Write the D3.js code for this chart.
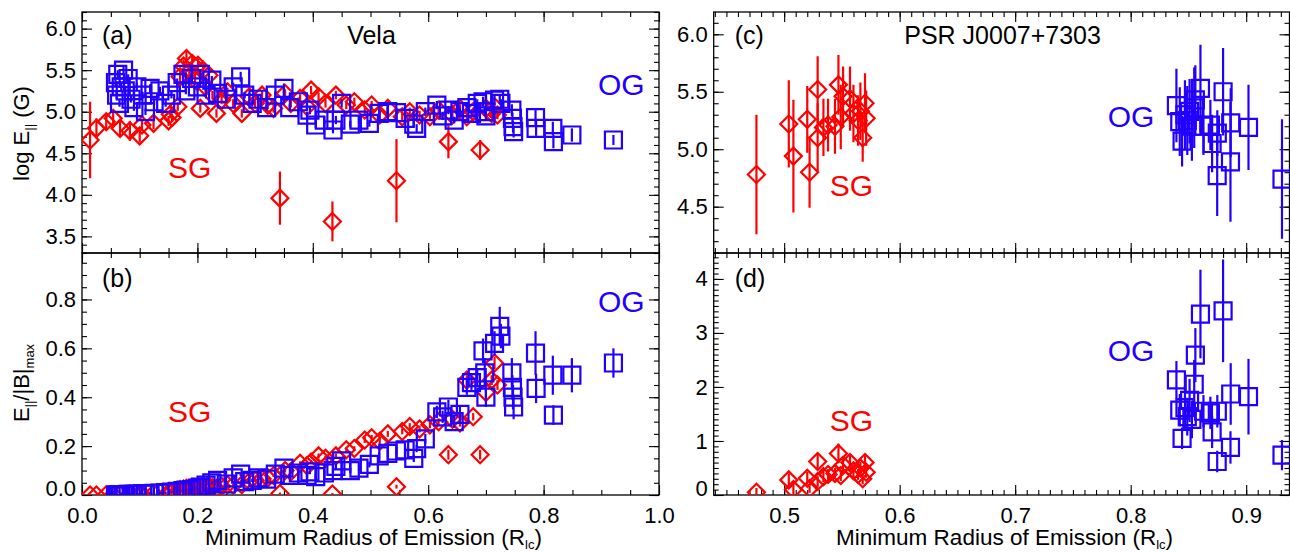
<!DOCTYPE html>
<html>
<head>
<meta charset="utf-8">
<script src="https://cdn.jsdelivr.net/npm/d3@7"></script>
<style>
body { margin: 0; background: #fff; }
svg text { font-family: "Liberation Sans", Arial, Helvetica, sans-serif; }
</style>
</head>
<body>
<div id="vis"></div>
<script>
// ---- Vela, slot gap (SG) fits ----
var velaSgRadius = [0.014, 0.025, 0.042, 0.054, 0.066, 0.083, 0.100, 0.104, 0.124, 0.150,
                    0.153, 0.156, 0.166, 0.170, 0.176, 0.181, 0.186, 0.191, 0.196, 0.201,
                    0.205, 0.210, 0.214, 0.220, 0.226, 0.233, 0.242, 0.252, 0.262, 0.277,
                    0.290, 0.300, 0.312, 0.322, 0.332, 0.343, 0.352, 0.362, 0.378, 0.390,
                    0.397, 0.410, 0.422, 0.434, 0.440, 0.458, 0.472, 0.490, 0.502, 0.516,
                    0.530, 0.545, 0.555, 0.568, 0.585, 0.603, 0.618, 0.635, 0.642, 0.655,
                    0.667, 0.678, 0.690, 0.700, 0.710, 0.715, 0.720];
var velaSgLogE = [4.66, 4.80, 4.88, 4.92, 4.80, 4.77, 4.71, 4.84, 4.86, 4.89,
                  4.97, 4.93, 5.06, 5.42, 5.55, 5.64, 5.48, 5.58, 5.38, 5.56,
                  5.04, 5.50, 5.30, 5.44, 5.20, 4.98, 5.14, 5.24, 5.10, 4.98,
                  5.18, 5.10, 5.20, 5.08, 5.04, 3.96, 5.22, 5.10, 5.16, 5.06,
                  5.26, 5.18, 5.10, 3.68, 5.20, 5.08, 5.12, 5.02, 5.08, 4.96,
                  5.04, 4.17, 4.94, 5.00, 4.96, 4.94, 5.02, 4.64, 4.96, 5.04,
                  4.94, 5.00, 4.54, 5.04, 4.98, 5.06, 4.96];
var velaSgLogEErr = [0.46, 0.12, 0.10, 0.09, 0.10, 0.12, 0.08, 0.07, 0.07, 0.06,
                     0.05, 0.05, 0.05, 0.08, 0.08, 0.09, 0.07, 0.08, 0.06, 0.08,
                     0.05, 0.08, 0.06, 0.07, 0.05, 0.05, 0.05, 0.05, 0.05, 0.05,
                     0.05, 0.05, 0.05, 0.05, 0.05, 0.32, 0.05, 0.05, 0.05, 0.05,
                     0.05, 0.05, 0.05, 0.24, 0.05, 0.05, 0.05, 0.05, 0.05, 0.05,
                     0.05, 0.50, 0.05, 0.05, 0.05, 0.05, 0.05, 0.20, 0.05, 0.05,
                     0.05, 0.05, 0.12, 0.05, 0.05, 0.05, 0.05];
var velaSgRatio = [0.000, 0.000, 0.001, 0.001, 0.002, 0.003, 0.004, 0.004, 0.006, 0.010,
                   0.011, 0.012, 0.015, 0.022, 0.024, 0.027, 0.025, 0.030, 0.026, 0.032,
                   0.020, 0.034, 0.030, 0.036, 0.030, 0.026, 0.036, 0.042, 0.040, 0.042,
                   0.055, 0.060, 0.066, 0.070, 0.080, 0.006, 0.100, 0.095, 0.130, 0.120,
                   0.135, 0.160, 0.150, 0.004, 0.160, 0.185, 0.190, 0.225, 0.234, 0.220,
                   0.250, 0.034, 0.260, 0.280, 0.270, 0.287, 0.300, 0.165, 0.310, 0.295,
                   0.470, 0.320, 0.165, 0.420, 0.470, 0.540, 0.450];
var velaSgRatioErr = [0.004, 0.003, 0.003, 0.003, 0.003, 0.003, 0.003, 0.003, 0.003, 0.004,
                      0.004, 0.004, 0.004, 0.005, 0.005, 0.005, 0.005, 0.005, 0.005, 0.005,
                      0.004, 0.005, 0.005, 0.005, 0.005, 0.004, 0.005, 0.005, 0.005, 0.005,
                      0.005, 0.006, 0.006, 0.006, 0.006, 0.004, 0.008, 0.008, 0.008, 0.008,
                      0.008, 0.010, 0.010, 0.004, 0.010, 0.010, 0.010, 0.012, 0.012, 0.012,
                      0.012, 0.008, 0.012, 0.014, 0.014, 0.014, 0.014, 0.020, 0.015, 0.015,
                      0.020, 0.015, 0.020, 0.020, 0.020, 0.025, 0.020];

// ---- Vela, outer gap (OG) fits ----
var velaOgRadius = [0.058, 0.060, 0.062, 0.065, 0.068, 0.072, 0.075, 0.080, 0.085, 0.090,
                    0.095, 0.105, 0.110, 0.118, 0.125, 0.135, 0.145, 0.155, 0.165, 0.175,
                    0.180, 0.190, 0.200, 0.205, 0.215, 0.225, 0.235, 0.250, 0.262, 0.275,
                    0.282, 0.295, 0.305, 0.320, 0.335, 0.350, 0.360, 0.375, 0.390, 0.395,
                    0.405, 0.420, 0.435, 0.440, 0.450, 0.465, 0.480, 0.498, 0.515, 0.530,
                    0.545, 0.560, 0.575, 0.580, 0.595, 0.615, 0.625, 0.635, 0.645, 0.655,
                    0.667, 0.675, 0.685, 0.695, 0.698, 0.700, 0.715, 0.724, 0.726, 0.745,
                    0.746, 0.747, 0.748, 0.786, 0.787, 0.816, 0.817, 0.849, 0.921];
var velaOgLogE = [5.35, 5.20, 5.45, 5.10, 5.30, 5.50, 5.25, 5.40, 5.15, 5.05,
                  5.30, 5.20, 5.00, 5.28, 5.12, 5.25, 5.10, 5.20, 5.35, 5.45,
                  5.25, 5.40, 5.30, 5.45, 5.20, 5.38, 5.22, 5.15, 5.30, 5.42,
                  5.20, 5.10, 5.15, 5.05, 5.20, 5.28, 5.05, 5.12, 4.96, 5.02,
                  4.84, 4.90, 4.78, 4.90, 5.10, 4.85, 4.90, 4.86, 4.98, 5.00,
                  4.99, 4.92, 4.85, 4.80, 5.00, 5.08, 4.95, 5.02, 4.90, 5.00,
                  5.05, 4.98, 5.10, 5.12, 5.00, 4.95, 5.14, 5.15, 5.10, 5.02,
                  4.92, 4.82, 4.76, 4.93, 4.80, 4.80, 4.64, 4.72, 4.66];
var velaOgLogEErr = [0.05, 0.05, 0.05, 0.04, 0.05, 0.05, 0.04, 0.05, 0.04, 0.04,
                     0.05, 0.04, 0.04, 0.05, 0.04, 0.05, 0.04, 0.04, 0.05, 0.05,
                     0.04, 0.05, 0.05, 0.05, 0.04, 0.05, 0.04, 0.04, 0.05, 0.06,
                     0.04, 0.04, 0.05, 0.04, 0.05, 0.06, 0.04, 0.05, 0.04, 0.05,
                     0.04, 0.05, 0.04, 0.05, 0.05, 0.04, 0.05, 0.04, 0.05, 0.05,
                     0.05, 0.05, 0.04, 0.05, 0.05, 0.05, 0.05, 0.05, 0.04, 0.05,
                     0.05, 0.05, 0.05, 0.06, 0.05, 0.05, 0.06, 0.06, 0.05, 0.07,
                     0.07, 0.07, 0.07, 0.09, 0.09, 0.08, 0.08, 0.08, 0.06];
var velaOgRatio = [0.000, 0.000, 0.001, 0.000, 0.002, 0.002, 0.002, 0.003, 0.003, 0.003,
                   0.004, 0.005, 0.005, 0.006, 0.007, 0.008, 0.010, 0.012, 0.015, 0.018,
                   0.020, 0.022, 0.028, 0.032, 0.040, 0.050, 0.060, 0.045, 0.070, 0.085,
                   0.055, 0.060, 0.070, 0.065, 0.085, 0.110, 0.080, 0.090, 0.080, 0.095,
                   0.075, 0.090, 0.100, 0.117, 0.140, 0.100, 0.110, 0.125, 0.160, 0.170,
                   0.180, 0.185, 0.150, 0.190, 0.230, 0.340, 0.320, 0.360, 0.300, 0.330,
                   0.440, 0.460, 0.480, 0.590, 0.500, 0.400, 0.620, 0.690, 0.650, 0.500,
                   0.440, 0.400, 0.360, 0.580, 0.436, 0.490, 0.327, 0.490, 0.540];
var velaOgRatioErr = [0.003, 0.003, 0.003, 0.003, 0.003, 0.003, 0.003, 0.003, 0.003, 0.003,
                      0.003, 0.003, 0.003, 0.004, 0.004, 0.004, 0.004, 0.004, 0.005, 0.005,
                      0.005, 0.005, 0.005, 0.005, 0.006, 0.006, 0.006, 0.006, 0.007, 0.007,
                      0.007, 0.007, 0.008, 0.008, 0.008, 0.010, 0.008, 0.010, 0.008, 0.010,
                      0.010, 0.010, 0.010, 0.012, 0.012, 0.010, 0.012, 0.012, 0.015, 0.015,
                      0.015, 0.015, 0.015, 0.015, 0.020, 0.025, 0.025, 0.030, 0.025, 0.030,
                      0.030, 0.030, 0.035, 0.050, 0.060, 0.040, 0.050, 0.080, 0.050, 0.060,
                      0.050, 0.050, 0.050, 0.090, 0.060, 0.080, 0.040, 0.070, 0.060];

// ---- PSR J0007+7303 ----
var j0007SgRadius = [0.476, 0.504, 0.508, 0.520, 0.522, 0.529, 0.529, 0.534, 0.538, 0.544,
                     0.547, 0.549, 0.551, 0.557, 0.560, 0.564, 0.566, 0.568, 0.570, 0.571];
var j0007SgLogE = [4.78, 5.22, 4.94, 5.26, 4.80, 5.52, 5.10, 5.19, 5.21, 5.20,
                   5.56, 5.28, 5.46, 5.44, 5.31, 5.25, 5.33, 5.10, 5.40, 5.27];
var j0007SgLogEErr = [0.52, 0.38, 0.49, 0.29, 0.31, 0.29, 0.30, 0.25, 0.23, 0.24,
                      0.26, 0.28, 0.26, 0.28, 0.25, 0.22, 0.25, 0.21, 0.26, 0.24];
var j0007SgRatio = [0.05, 0.28, 0.10, 0.31, 0.12, 0.62, 0.25, 0.34, 0.38, 0.40,
                    0.77, 0.36, 0.55, 0.60, 0.45, 0.38, 0.50, 0.30, 0.60, 0.42];
var j0007SgRatioErr = [0.08, 0.12, 0.10, 0.12, 0.08, 0.16, 0.10, 0.10, 0.10, 0.10,
                       0.18, 0.10, 0.14, 0.15, 0.12, 0.10, 0.12, 0.10, 0.14, 0.10];

var j0007OgRadius = [0.8396, 0.8425, 0.8445, 0.847, 0.849, 0.851, 0.853, 0.855, 0.856, 0.8604,
                     0.863, 0.869, 0.8705, 0.8749, 0.875, 0.880, 0.8864, 0.8866, 0.902, 0.931];
var j0007OgLogE = [5.38, 5.24, 5.07, 5.30, 5.25, 5.33, 5.20, 5.36, 5.43, 5.53,
                   5.20, 5.21, 5.05, 4.77, 5.14, 5.50, 4.89, 5.23, 5.19, 4.74];
var j0007OgLogEErr = [0.32, 0.30, 0.22, 0.30, 0.30, 0.28, 0.30, 0.35, 0.30, 0.38,
                      0.25, 0.22, 0.25, 0.35, 0.20, 0.38, 0.52, 0.30, 0.37, 0.52];
var j0007OgRatio = [2.13, 1.57, 1.05, 1.62, 1.45, 1.75, 1.40, 2.05, 2.59, 3.35,
                    1.55, 1.52, 1.17, 0.62, 1.55, 3.41, 0.88, 1.87, 1.82, 0.74];
var j0007OgRatioErr = [0.35, 0.30, 0.20, 0.40, 0.35, 0.40, 0.35, 0.45, 0.50, 0.82,
                       0.30, 0.30, 0.30, 0.20, 0.30, 0.95, 0.30, 0.57, 0.70, 0.28];

// ---- axis ticks ----
var leftXTicks = [0.0, 0.2, 0.4, 0.6, 0.8, 1.0];
var rightXTicks = [0.5, 0.6, 0.7, 0.8, 0.9];
var aTicks = [3.5, 4.0, 4.5, 5.0, 5.5, 6.0];
var bTicks = [0.0, 0.2, 0.4, 0.6, 0.8];
var cTicks = [4.5, 5.0, 5.5, 6.0];
var dTicks = [0, 1, 2, 3, 4];

var w = 1290,
    h = 552,
    red = "#ff0000",
    blue = "#2200ff",
    tickFont = 22;

var svg = d3.select("#vis").append("svg")
    .attr("width", w)
    .attr("height", h);

var xLeft = d3.scaleLinear().domain([0, 1]).range([82, 659]),
    xRight = d3.scaleLinear().domain([0.439, 0.9375]).range([713.7, 1289.5]),
    yA = d3.scaleLinear().domain([3.3, 6.2]).range([253, 12]),
    yB = d3.scaleLinear().domain([0, 0.99]).range([495, 253]),
    yC = d3.scaleLinear().domain([4.097, 6.194]).range([253, 12]),
    yD = d3.scaleLinear().domain([0, 4.48]).range([495, 253]);

function zip(r, v, e) {
  return r.map(function(d, i) { return {r: d, v: v[i], e: e[i]}; });
}

// minor tick positions between the domain ends
function minors(domain, step) {
  var out = [], k = Math.ceil(domain[0] / step - 1e-6);
  for (; k * step <= domain[1] + 1e-9; k++) out.push(+(k * step).toFixed(4));
  return out;
}

function panel(name, x, y, o) {
  var x0 = x.range()[0], x1 = x.range()[1],
      yTop = y.range()[1], yBot = y.range()[0];
  var g = svg.append("g");

  svg.append("clipPath").attr("id", "clip-" + name)
    .append("rect")
      .attr("x", x0).attr("y", yTop)
      .attr("width", x1 - x0).attr("height", yBot - yTop);

  function tickAxis(axis, pos, vals, size, labels) {
    var a = g.append("g")
        .attr("transform", pos)
        .call(axis.tickValues(vals).tickSize(size).tickSizeOuter(0)
          .tickFormat(labels || ""));
    a.select(".domain").remove();
    a.selectAll("line").attr("stroke", "#000").attr("stroke-width", 1.1);
    a.selectAll("text").attr("font-size", tickFont).attr("fill", "#000")
        .attr("font-family", "Liberation Sans, Arial, sans-serif");
    return a;
  }

  var xm = minors(x.domain(), o.xMinor), ym = minors(y.domain(), o.yMinor);

  // bottom
  tickAxis(d3.axisBottom(x).tickPadding(12), "translate(0," + yBot + ")", o.xTicks, -10,
      o.xLabels ? d3.format(o.xFormat) : null);
  tickAxis(d3.axisBottom(x), "translate(0," + yBot + ")", xm, -5);
  // top
  tickAxis(d3.axisTop(x), "translate(0," + yTop + ")", o.xTicks, -10);
  tickAxis(d3.axisTop(x), "translate(0," + yTop + ")", xm, -5);
  // left, the lowest label sits above the bottom edge
  var ly = tickAxis(d3.axisLeft(y).tickPadding(6), "translate(" + x0 + ",0)", o.yTicks, -10,
      d3.format(o.yFormat));
  ly.selectAll(".tick text").filter(function(d) { return d === y.domain()[0]; })
      .attr("dy", "0em");
  tickAxis(d3.axisLeft(y), "translate(" + x0 + ",0)", ym, -5);
  // right
  tickAxis(d3.axisRight(y), "translate(" + x1 + ",0)", o.yTicks, -10);
  tickAxis(d3.axisRight(y), "translate(" + x1 + ",0)", ym, -5);

  // frame
  g.append("rect")
      .attr("x", x0).attr("y", yTop)
      .attr("width", x1 - x0).attr("height", yBot - yTop)
      .attr("fill", "none").attr("stroke", "#000").attr("stroke-width", 1.3);

  var plot = svg.append("g").attr("clip-path", "url(#clip-" + name + ")");
  return {g: g, plot: plot, x0: x0, x1: x1, yTop: yTop, yBot: yBot};
}

function series(p, x, y, data, shape, color) {
  var s = p.plot.append("g");
  s.selectAll("line")
    .data(data)
    .enter().append("line")
      .attr("x1", function(d) { return x(d.r); })
      .attr("x2", function(d) { return x(d.r); })
      .attr("y1", function(d) { return y(d.v - d.e); })
      .attr("y2", function(d) { return y(d.v + d.e); })
      .attr("stroke", color)
      .attr("stroke-width", 2.2);
  var path = shape === "diamond" ? "M0,-8.5L8.5,0L0,8.5L-8.5,0Z" : "M-8.5,-8.5H8.5V8.5H-8.5Z";
  s.selectAll("path")
    .data(data)
    .enter().append("path")
      .attr("d", path)
      .attr("transform", function(d) { return "translate(" + x(d.r) + "," + y(d.v) + ")"; })
      .attr("fill", "none")
      .attr("stroke", color)
      .attr("stroke-width", 2.2);
}

function label(p, txt, x, y, size, color, anchor) {
  p.g.append("text")
      .attr("x", x).attr("y", y)
      .attr("font-size", size)
      .attr("fill", color || "#000")
      .attr("text-anchor", anchor || "start")
      .text(txt);
}

// ---- panels ----
var pa = panel("a", xLeft, yA, {xTicks: leftXTicks, xMinor: 0.05, yTicks: aTicks, yMinor: 0.1,
    yFormat: ".1f"});
var pb = panel("b", xLeft, yB, {xTicks: leftXTicks, xMinor: 0.05, yTicks: bTicks, yMinor: 0.05,
    yFormat: ".1f", xLabels: true, xFormat: ".1f"});
var pc = panel("c", xRight, yC, {xTicks: rightXTicks, xMinor: 0.01, yTicks: cTicks, yMinor: 0.1,
    yFormat: ".1f"});
var pd = panel("d", xRight, yD, {xTicks: rightXTicks, xMinor: 0.01, yTicks: dTicks, yMinor: 0.1,
    yFormat: "d", xLabels: true, xFormat: ".1f"});

series(pa, xLeft, yA, zip(velaSgRadius, velaSgLogE, velaSgLogEErr), "diamond", red);
series(pa, xLeft, yA, zip(velaOgRadius, velaOgLogE, velaOgLogEErr), "square", blue);
series(pb, xLeft, yB, zip(velaSgRadius, velaSgRatio, velaSgRatioErr), "diamond", red);
series(pb, xLeft, yB, zip(velaOgRadius, velaOgRatio, velaOgRatioErr), "square", blue);
series(pc, xRight, yC, zip(j0007SgRadius, j0007SgLogE, j0007SgLogEErr), "diamond", red);
series(pc, xRight, yC, zip(j0007OgRadius, j0007OgLogE, j0007OgLogEErr), "square", blue);
series(pd, xRight, yD, zip(j0007SgRadius, j0007SgRatio, j0007SgRatioErr), "diamond", red);
series(pd, xRight, yD, zip(j0007OgRadius, j0007OgRatio, j0007OgRatioErr), "square", blue);

// ---- annotations ----
label(pa, "(a)", pa.x0 + 20, pa.yTop + 32, 25);
label(pa, "Vela", (pa.x0 + pa.x1) / 2 + 1, pa.yTop + 32, 25, "#000", "middle");
label(pa, "SG", pa.x0 + 86, 178, 30, red);
label(pa, "OG", pa.x0 + 516, 95, 30, blue);

label(pb, "(b)", pb.x0 + 20, pb.yTop + 34, 25);
label(pb, "SG", pb.x0 + 86, 422, 30, red);
label(pb, "OG", pb.x0 + 516, 312, 30, blue);

label(pc, "(c)", pc.x0 + 21, pc.yTop + 32, 25);
label(pc, "PSR J0007+7303", (pc.x0 + pc.x1) / 2 + 1, pc.yTop + 32, 25, "#000", "middle");
label(pc, "SG", pc.x0 + 116, 196, 30, red);
label(pc, "OG", pc.x0 + 394, 127, 30, blue);

label(pd, "(d)", pd.x0 + 21, pd.yTop + 34, 25);
label(pd, "SG", pd.x0 + 116, 431, 30, red);
label(pd, "OG", pd.x0 + 394, 361, 30, blue);

// ---- axis titles ----
function xTitle(cx) {
  var t = svg.append("text")
      .attr("x", cx).attr("y", 545)
      .attr("font-size", 22.5)
      .attr("text-anchor", "middle");
  t.append("tspan").text("Minimum Radius of Emission (R");
  t.append("tspan").attr("font-size", 13).attr("dy", 4).text("lc");
  t.append("tspan").attr("dy", -4).text(")");
}
xTitle((pb.x0 + pb.x1) / 2 + 3);
xTitle((pd.x0 + pd.x1) / 2 + 3);

var ta = svg.append("text")
    .attr("transform", "translate(29," + ((pa.yTop + pa.yBot) / 2 + 1) + ") rotate(-90)")
    .attr("font-size", 22)
    .attr("text-anchor", "middle");
ta.append("tspan").text("log E");
ta.append("tspan").attr("font-size", 13).attr("dy", 5).text("||");
ta.append("tspan").attr("dy", -5).text(" (G)");

var tb = svg.append("text")
    .attr("transform", "translate(29," + ((pb.yTop + pb.yBot) / 2 + 9) + ") rotate(-90)")
    .attr("font-size", 22)
    .attr("text-anchor", "middle");
tb.append("tspan").text("E");
tb.append("tspan").attr("font-size", 13).attr("dy", 5).text("||");
tb.append("tspan").attr("dy", -5).text("/|B|");
tb.append("tspan").attr("font-size", 13).attr("dy", 5).text("max");
</script>
</body>
</html>
